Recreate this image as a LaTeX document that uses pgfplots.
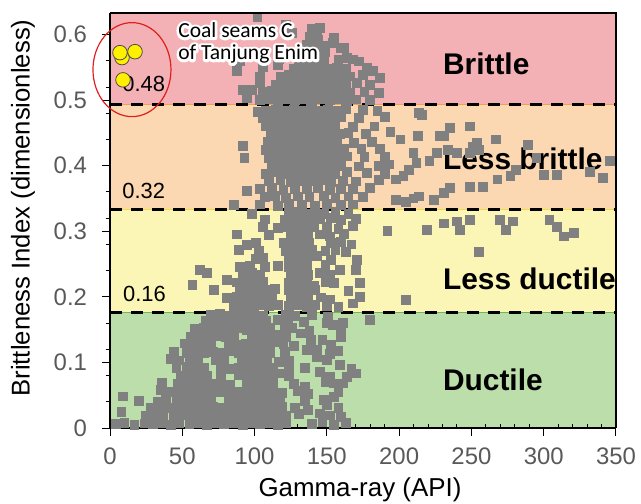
\documentclass[border=0pt]{standalone}
\usepackage{fontspec}
\setmainfont{Liberation Sans}
\newfontfamily\calibrifont{Carlito}
\usepackage{pgfplots}
\pgfplotsset{compat=1.18}

\definecolor{ptgray}{RGB}{128,128,128}
\definecolor{bandpink}{RGB}{244,177,181}
\definecolor{bandorange}{RGB}{251,216,177}
\definecolor{bandyellow}{RGB}{252,246,182}
\definecolor{bandgreen}{RGB}{188,222,171}
\definecolor{edgeorange}{RGB}{240,160,80}
\definecolor{edgeyellow}{RGB}{240,220,60}
\definecolor{edgegreen}{RGB}{110,185,80}
\definecolor{tickgray}{RGB}{89,89,89}
\definecolor{coalyellow}{RGB}{255,240,0}
\definecolor{ringred}{RGB}{225,30,30}

% outlined (stroked) glyphs, used for the white glow under the annotation
\newcommand\strokedtext[2]{\special{pdf:code 1 Tr #1 w 1 j 1 J}#2\special{pdf:code 0 Tr}}

\begin{document}
\begin{tikzpicture}
\begin{axis}[
  scale only axis, width=253bp, height=207.5bp,
  xmin=0, xmax=350, ymin=0, ymax=0.633,
  axis x line*=bottom, axis y line*=left,
  axis line style={line width=1.4bp, black},
  axis on top,
  xtick={0,50,100,150,200,250,300,350},
  ytick={0,0.1,0.2,0.3,0.4,0.5,0.6},
  tick align=outside,
  major tick length=4bp,
  tick style={black, line width=0.5bp},
  extra x ticks={10,20,30,40,60,70,80,90,110,120,130,140,160,170,180,190,210,220,230,240,260,270,280,290,310,320,330,340},
  extra x tick labels={},
  extra x tick style={tick align=inside, major tick length=2bp},
  extra y ticks={0.04,0.08,0.12,0.16,0.24,0.28,0.32,0.36,0.44,0.48,0.52,0.56},
  extra y tick labels={},
  extra y tick style={major tick length=2bp},
  ticklabel style={font=\fontsize{12}{14}\selectfont, text=tickgray},
  xticklabel style={yshift=-2.5bp},
  yticklabel style={xshift=-4bp, /pgf/number format/fixed},
  /pgf/number format/assume math mode=true,
  scaled y ticks=false,
  xlabel={Gamma-ray (API)},
  ylabel={Brittleness Index (dimensionless)},
  every axis x label/.style={at={(axis description cs:0.494,-0.149)}, anchor=center, font=\fontsize{13}{16}\selectfont},
  every axis y label/.style={at={(axis description cs:-0.172,0.53)}, anchor=center, rotate=90, font=\fontsize{12.9}{16}\selectfont},
]

% brittleness classes
\fill[bandgreen]  (axis cs:0,0)     rectangle (axis cs:350,0.176);
\fill[bandyellow] (axis cs:0,0.176) rectangle (axis cs:350,0.333);
\fill[bandorange] (axis cs:0,0.333) rectangle (axis cs:350,0.493);
\fill[bandpink]   (axis cs:0,0.493) rectangle (axis cs:350,0.633);
\draw[edgegreen, line width=0.6bp]  (axis cs:0,0.176) -- (axis cs:350,0.176);
\draw[edgeyellow, line width=0.6bp] (axis cs:0,0.333) -- (axis cs:350,0.333);
\draw[edgeorange, line width=0.6bp] (axis cs:0,0.493) -- (axis cs:350,0.493);

% well log samples
\addplot[only marks, mark=square*, mark size=2.2bp, mark options={draw=ptgray, fill=ptgray, line width=0pt}] coordinates {
(4,0.006) (10,0.008) (17,0.005) (24,0.007) (30,0.006) (36,0.008) (42,0.005) (48,0.007) (55,0.006) (61,0.008) (67,0.005) (73,0.007) (79,0.006) (85,0.008) (92,0.005) (98,0.007) (104,0.006) (110,0.008) (116,0.005) (122,0.007) (140,0.006) (147,0.009) (155,0.005) (163,0.008)
(8,0.025) (25,0.019) (31,0.021) (37,0.018) (44,0.020) (50,0.019) (56,0.021) (62,0.018) (68,0.020) (74,0.019) (80,0.021) (86,0.018) (92,0.020) (98,0.019) (104,0.021) (110,0.018) (116,0.020) (122,0.019) (131,0.021) (137,0.027) (145,0.022) (152,0.019) (160,0.017)
(28,0.031) (34,0.033) (40,0.030) (47,0.032) (53,0.031) (59,0.033) (65,0.030) (71,0.032) (77,0.031) (83,0.033) (89,0.030) (95,0.032) (101,0.031) (107,0.033) (113,0.030) (119,0.032) (128,0.031) (150,0.035) (158,0.030)
(20,0.041) (33,0.040) (39,0.044) (46,0.043) (52,0.045) (58,0.042) (64,0.044) (70,0.043) (82,0.042) (88,0.044) (94,0.043) (100,0.045) (106,0.042) (112,0.044) (118,0.043) (135,0.041) (148,0.043) (155,0.047)
(9,0.048) (35,0.058) (41,0.055) (47,0.057) (53,0.054) (59,0.056) (65,0.055) (71,0.057) (77,0.054) (83,0.056) (89,0.055) (95,0.057) (101,0.054) (107,0.056) (113,0.055) (119,0.053) (130,0.056) (137,0.052) (158,0.055)
(36,0.069) (47,0.067) (53,0.069) (59,0.066) (65,0.068) (71,0.067) (77,0.069) (83,0.066) (95,0.067) (101,0.069) (107,0.066) (113,0.068) (127,0.067) (135,0.063) (149,0.070) (155,0.068) (161,0.068)
(49,0.079) (55,0.081) (61,0.078) (67,0.080) (77,0.081) (89,0.080) (95,0.079) (101,0.081) (107,0.078) (113,0.080) (118,0.083) (124,0.079) (145,0.086) (152,0.078) (164,0.078) (170,0.083)
(46,0.091) (53,0.093) (59,0.090) (65,0.092) (77,0.093) (83,0.090) (89,0.092) (95,0.091) (101,0.093) (107,0.090) (113,0.092) (124,0.093) (135,0.091) (159,0.096) (167,0.090)
(42,0.105) (48,0.103) (55,0.104) (61,0.102) (73,0.104) (79,0.103) (91,0.102) (97,0.104) (103,0.103) (109,0.105) (117,0.101) (124,0.103) (150,0.104) (143,0.108)
(44,0.116) (53,0.115) (59,0.117) (65,0.114) (71,0.116) (77,0.115) (83,0.117) (89,0.114) (95,0.116) (101,0.115) (107,0.117) (111,0.114) (121,0.116) (136,0.119) (143,0.119) (152,0.113) (158,0.117)
(52,0.129) (58,0.127) (64,0.126) (70,0.128) (82,0.129) (88,0.126) (94,0.128) (100,0.127) (106,0.129) (111,0.126) (117,0.131) (120,0.128) (127,0.125) (139,0.134) (147,0.134) (153,0.127) (160,0.139)
(56,0.139) (62,0.141) (68,0.138) (74,0.140) (80,0.139) (86,0.141) (98,0.140) (104,0.139) (110,0.141) (116,0.142) (122,0.139) (132,0.144)
(59,0.151) (65,0.153) (71,0.150) (77,0.152) (83,0.151) (89,0.153) (95,0.150) (101,0.152) (107,0.151) (111,0.153) (121,0.150) (126,0.152) (138,0.148) (154,0.157) (160,0.153)
(66,0.163) (72,0.165) (78,0.162) (84,0.164) (90,0.163) (96,0.165) (102,0.162) (108,0.164) (116,0.165) (123,0.163) (134,0.162) (150,0.160) (161,0.160) (180,0.165)
(70,0.172) (76,0.174) (82,0.171) (88,0.173) (94,0.172) (100,0.174) (106,0.171) (122,0.173) (128,0.171) (140,0.172) (151,0.170)
(86,0.186) (92,0.188) (98,0.185) (104,0.187) (110,0.186) (116,0.188) (124,0.186) (130,0.188) (136,0.185) (142,0.187) (150,0.186) (158,0.184) (168,0.190)
(81,0.198) (88,0.200) (94,0.197) (100,0.199) (106,0.198) (112,0.200) (125,0.198) (131,0.200) (137,0.197) (146,0.199) (152,0.196) (173,0.200) (205,0.195)
(72,0.210) (90,0.211) (96,0.209) (102,0.212) (108,0.210) (114,0.212) (124,0.210) (130,0.212) (136,0.209) (142,0.211) (141,0.216) (165,0.209)
(57,0.218) (81,0.226) (88,0.222) (94,0.224) (100,0.221) (106,0.223) (124,0.222) (130,0.224) (136,0.221) (149,0.223) (155,0.221) (173,0.221)
(62,0.241) (67,0.236) (92,0.234) (98,0.236) (104,0.233) (125,0.234) (131,0.236) (137,0.233) (145,0.236) (152,0.233) (159,0.241) (170,0.241)
(90,0.246) (97,0.248) (107,0.245) (116,0.247) (124,0.246) (130,0.248) (136,0.245) (149,0.249)
(101,0.258) (106,0.260) (124,0.258) (130,0.260) (136,0.257) (143,0.262) (153,0.256) (171,0.256)
(89,0.272) (103,0.270) (122,0.270) (128,0.272) (134,0.269) (140,0.271) (149,0.270) (156,0.272) (163,0.268) (255,0.269)
(95,0.279) (101,0.282) (120,0.282) (126,0.284) (132,0.281) (138,0.283) (153,0.282) (160,0.284) (167,0.280)
(88,0.295) (110,0.294) (125,0.294) (131,0.296) (137,0.293) (145,0.295) (152,0.292) (162,0.296) (192,0.300) (314,0.292) (321,0.297)
(106,0.306) (116,0.305) (123,0.306) (129,0.308) (135,0.305) (141,0.307) (150,0.306) (158,0.304) (168,0.308) (219,0.302) (242,0.302) (274,0.302) (309,0.307)
(107,0.318) (121,0.318) (127,0.320) (133,0.317) (139,0.319) (145,0.318) (153,0.320) (160,0.317) (170,0.319) (231,0.312) (240,0.315) (249,0.317) (270,0.317) (279,0.315) (304,0.317)
(98,0.327) (124,0.328) (130,0.329) (136,0.327) (142,0.328) (148,0.326) (156,0.329) (165,0.327)
(86,0.340) (104,0.341) (116,0.339) (124,0.342) (133,0.340) (142,0.339) (150,0.342) (160,0.340) (168,0.341) (198,0.348) (205,0.345) (214,0.353)
(107,0.352) (114,0.354) (122,0.351) (130,0.353) (138,0.352) (148,0.354) (156,0.351) (165,0.353) (175,0.352) (210,0.350) (224,0.348) (231,0.358)
(95,0.361) (104,0.364) (112,0.366) (120,0.363) (128,0.365) (136,0.364) (144,0.366) (152,0.363) (160,0.365) (168,0.364) (180,0.366) (235,0.366) (249,0.368) (258,0.368)
(110,0.376) (118,0.378) (125,0.375) (132,0.377) (139,0.376) (146,0.378) (153,0.375) (161,0.377) (170,0.376) (186,0.378) (198,0.379) (268,0.379)
(108,0.388) (114,0.390) (120,0.387) (126,0.389) (132,0.388) (138,0.390) (144,0.387) (150,0.389) (156,0.388) (164,0.390) (178,0.389) (190,0.388) (203,0.384) (277,0.384) (300,0.386) (309,0.386) (332,0.391)
(112,0.400) (118,0.402) (124,0.399) (130,0.401) (136,0.400) (142,0.402) (148,0.399) (154,0.401) (160,0.400) (172,0.399) (186,0.400) (193,0.402) (207,0.394) (281,0.394) (341,0.381)
(93,0.412) (110,0.412) (116,0.414) (122,0.411) (128,0.413) (134,0.412) (140,0.414) (146,0.411) (152,0.413) (158,0.412) (164,0.414) (176,0.413) (190,0.414) (212,0.404) (221,0.407) (295,0.412) (346,0.407)
(108,0.424) (114,0.426) (120,0.423) (126,0.425) (132,0.424) (138,0.426) (144,0.423) (150,0.425) (156,0.424) (162,0.426) (174,0.425) (187,0.426) (210,0.419) (226,0.419) (234,0.424) (240,0.419) (249,0.419) (255,0.424)
(92,0.430) (109,0.436) (115,0.438) (121,0.435) (127,0.437) (133,0.436) (139,0.438) (145,0.435) (151,0.437) (157,0.436) (169,0.435) (181,0.436) (201,0.440) (213,0.445) (228,0.445) (251,0.429) (254,0.435) (289,0.432)
(111,0.448) (117,0.450) (123,0.447) (129,0.449) (135,0.448) (141,0.450) (147,0.447) (153,0.449) (159,0.448) (165,0.450) (177,0.449) (194,0.451) (231,0.445) (267,0.440)
(108,0.460) (114,0.462) (120,0.459) (126,0.461) (132,0.460) (138,0.462) (144,0.459) (150,0.461) (156,0.460) (168,0.459) (183,0.460) (235,0.457) (249,0.460)
(106,0.472) (112,0.474) (118,0.471) (124,0.473) (130,0.472) (136,0.474) (142,0.471) (148,0.473) (154,0.472) (160,0.474) (172,0.473) (190,0.474) (216,0.478)
(102,0.482) (108,0.484) (115,0.485) (121,0.483) (127,0.485) (133,0.484) (139,0.486) (145,0.483) (151,0.485) (157,0.484) (163,0.486) (175,0.485) (185,0.484) (214,0.480)
(95,0.503) (104,0.500) (110,0.502) (116,0.499) (122,0.501) (128,0.500) (134,0.502) (140,0.499) (146,0.501) (152,0.500) (158,0.502) (164,0.499) (170,0.501) (180,0.500)
(92,0.516) (98,0.516) (106,0.512) (112,0.514) (118,0.511) (124,0.513) (130,0.512) (136,0.514) (142,0.511) (148,0.513) (154,0.512) (160,0.514) (166,0.511) (176,0.513) (186,0.511)
(104,0.526) (115,0.524) (121,0.526) (127,0.523) (133,0.525) (139,0.524) (145,0.526) (151,0.523) (157,0.525) (163,0.524) (171,0.526) (180,0.523)
(104,0.535) (118,0.536) (124,0.538) (130,0.535) (136,0.537) (142,0.536) (148,0.538) (154,0.535) (160,0.537) (166,0.536) (175,0.538) (187,0.534)
(88,0.544) (106,0.551) (116,0.554) (127,0.548) (133,0.550) (139,0.547) (145,0.549) (151,0.548) (157,0.550) (163,0.547) (178,0.549) (182,0.544)
(90,0.559) (117,0.562) (131,0.562) (136,0.560) (142,0.562) (148,0.559) (158,0.561) (164,0.564) (168,0.562) (172,0.559)
(118,0.572) (131,0.572) (137,0.574) (143,0.571) (149,0.573) (160,0.580)
(136,0.584) (142,0.586) (148,0.583) (154,0.587) (162,0.580)
(126,0.602) (138,0.597) (144,0.592) (155,0.595) (141,0.603)
(140,0.608) (145,0.610) (143,0.607) (122,0.615) (102,0.627)
};

% class boundaries
\addplot[black, line width=1.6bp, dash pattern=on 6bp off 4.5bp] coordinates {(0,0.176) (350,0.176)};
\addplot[black, line width=1.6bp, dash pattern=on 6bp off 4.5bp] coordinates {(0,0.333) (350,0.333)};
\addplot[black, line width=1.6bp, dash pattern=on 6bp off 4.5bp] coordinates {(0,0.493) (350,0.493)};

% class names
\node[anchor=west, font=\bfseries\fontsize{15}{18}\selectfont] at (axis cs:225.5,0.556) {Brittle};
\node[anchor=west, font=\bfseries\fontsize{15}{18}\selectfont] at (axis cs:225.5,0.411) {Less brittle};
\node[anchor=west, font=\bfseries\fontsize{15}{18}\selectfont] at (axis cs:225.5,0.227) {Less ductile};
\node[anchor=west, font=\bfseries\fontsize{15}{18}\selectfont] at (axis cs:225.5,0.073) {Ductile};

% threshold values
\node[anchor=west, inner sep=0pt, font=\fontsize{11}{13}\selectfont] at (axis cs:8.3,0.524) {0.48};
\node[anchor=west, inner sep=0pt, font=\fontsize{11}{13}\selectfont] at (axis cs:8.3,0.362) {0.32};
\node[anchor=west, inner sep=0pt, font=\fontsize{11}{13}\selectfont] at (axis cs:8.8,0.205) {0.16};

% coal seam samples
\addplot[only marks, mark=*, mark size=3.65bp, mark options={fill=coalyellow, draw=black!70, line width=0.4bp}] coordinates {(8.3,0.565) (6.9,0.5725) (17.3,0.574) (9.0,0.531)};

\coordinate (ellc) at (axis cs:15.2,0.5466);
\coordinate (annA) at (axis cs:47,0.5954);
\coordinate (annB) at (axis cs:47,0.5618);
\end{axis}

% top and right frame
\draw[black, line width=1bp] (current axis.north west) -- (current axis.north east) -- (current axis.south east);

% coal seam annotation, black text over a white outline
\draw[ringred, line width=0.6bp] (ellc) ellipse [x radius=19.5bp, y radius=23.5bp];
\begin{scope}
\node[anchor=base west, inner sep=0pt, text=white, font=\calibrifont\fontsize{10.8}{13}\selectfont] at (annA) {\strokedtext{2.6}{Coal seams C}};
\node[anchor=base west, inner sep=0pt, text=white, font=\calibrifont\fontsize{10.8}{13}\selectfont] at (annB) {\strokedtext{2.6}{of Tanjung Enim}};
\end{scope}
\node[anchor=base west, inner sep=0pt, font=\calibrifont\fontsize{10.8}{13}\selectfont] at (annA) {Coal seams C};
\node[anchor=base west, inner sep=0pt, font=\calibrifont\fontsize{10.8}{13}\selectfont] at (annB) {of Tanjung Enim};

\pgfresetboundingbox
\path (current axis.south west) ++(-55bp,-38bp) rectangle ++(320.5bp,252bp);
\end{tikzpicture}
\end{document}
